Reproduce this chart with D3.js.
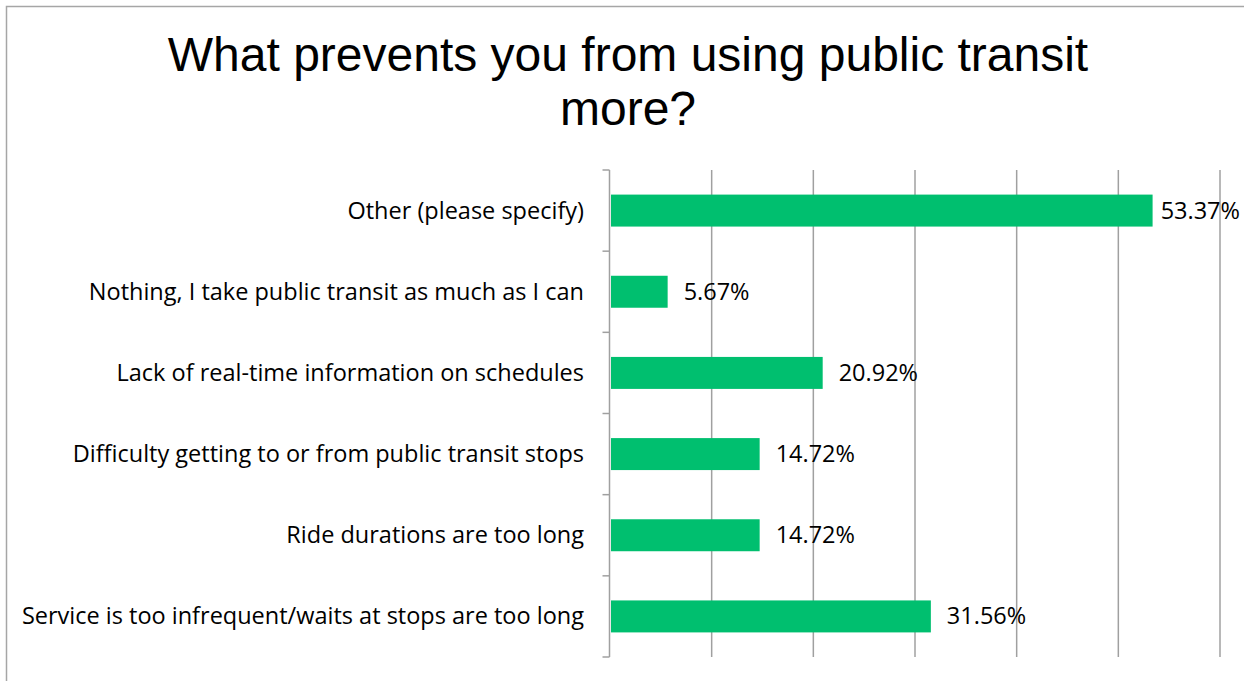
<!DOCTYPE html>
<html><head><meta charset="utf-8">
<script src="https://cdn.jsdelivr.net/npm/d3@7"></script>
<style>body{margin:0;background:#fff}</style>
</head><body>
<svg id="c" width="1244" height="681"></svg>
<script>
const categories = [
  "Other (please specify)",
  "Nothing, I take public transit as much as I can",
  "Lack of real-time information on schedules",
  "Difficulty getting to or from public transit stops",
  "Ride durations are too long",
  "Service is too infrequent/waits at stops are too long"
];
const values = [53.37, 5.67, 20.92, 14.72, 14.72, 31.56];
const xTicks = [0, 10, 20, 30, 40, 50, 60];
const titleLines = ["What prevents you from using public transit", "more?"];

const svg = d3.select("#c");
svg.append("rect").attr("x",6.5).attr("y",6.5).attr("width",1250).attr("height",700)
  .attr("fill","#fff").attr("stroke","#a6a6a6").attr("stroke-width",1.5);

const x = d3.scaleLinear().domain([0,60]).range([610,1220]);
const y = d3.scaleBand().domain(categories).range([170,657]).paddingInner(0.606).paddingOuter(0.303);
const yb = d3.scaleBand().domain(categories).range([170,657]);

const font = "'Open Sans', Carlito, Calibri, sans-serif";

svg.append("g").selectAll("text").data(titleLines).join("text")
  .attr("x",628).attr("y",(d,i)=>71+i*54)
  .attr("text-anchor","middle").attr("font-family","'Liberation Sans', Arial, sans-serif")
  .attr("font-size",48).attr("fill","#000").text(d=>d);

// gridlines
svg.append("g").selectAll("line").data(xTicks.slice(1)).join("line")
  .attr("x1",d=>x(d)).attr("x2",d=>x(d)).attr("y1",170).attr("y2",657)
  .attr("stroke","#a0a0a0").attr("stroke-width",1.5);

// axis line and ticks
const yAxis = d3.axisLeft(yb).tickSize(0).tickFormat("");
const ag = svg.append("g").attr("transform","translate(609.5,0)").call(yAxis);
ag.select(".domain").remove();
ag.append("line").attr("y1",170).attr("y2",657).attr("stroke","#a0a0a0").attr("stroke-width",1.5);
const bounds = categories.map(c=>yb(c)).concat([yb.range()[1]]);
ag.selectAll("line.tk").data(bounds).join("line").attr("class","tk")
  .attr("x1",-7).attr("x2",0).attr("y1",d=>d).attr("y2",d=>d)
  .attr("stroke","#a0a0a0").attr("stroke-width",1.5);

// bars
svg.append("g").selectAll("rect").data(values).join("rect")
  .attr("x",x(0)+1).attr("y",(d,i)=>y(categories[i]))
  .attr("width",d=>x(d)-x(0)-1).attr("height",y.bandwidth())
  .attr("fill","#00bf6f");

// category labels
svg.append("g").selectAll("text").data(categories).join("text")
  .attr("x",584).attr("y",d=>y(d)+y.bandwidth()/2+8)
  .attr("text-anchor","end").attr("font-family",font).attr("font-size",23.5).attr("fill","#000").text(d=>d);

// value labels
svg.append("g").selectAll("text").data(values).join("text")
  .attr("y",(d,i)=>y(categories[i])+y.bandwidth()/2+8)
  .attr("font-family",font).attr("font-size",23.5).attr("fill","#000").text(d=>d.toFixed(2)+"%")
  .attr("x",function(d){ const w=this.getComputedTextLength(); return Math.min(x(d)+16, 1240-w); });
</script>
</body></html>
